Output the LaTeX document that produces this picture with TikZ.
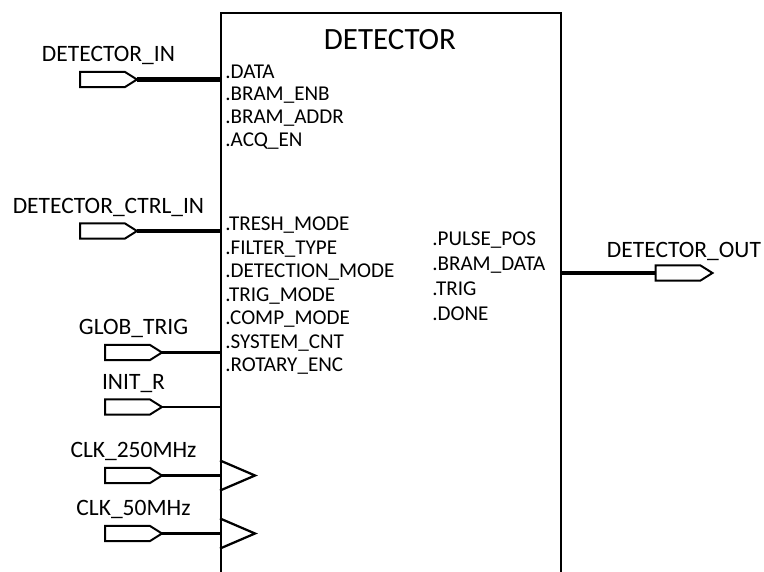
\documentclass[tikz,border=0pt]{standalone}
\usepackage{fontspec}
\setmainfont{Carlito}
\usepackage{tikz}
\usetikzlibrary{positioning}

\tikzset{
    port/.style={rectangle, minimum width=40.5pt, minimum height=10.7pt, inner sep=0pt, outer sep=0pt},
    portline/.style={line width=1.4pt, line join=miter},
    portlabel/.style={anchor=base, inner sep=0pt, font=\fontsize{16.7}{20}\selectfont},
    pin/.style={anchor=base west, inner sep=0pt, font=\fontsize{15}{18}\selectfont},
    bus/.style={line width=3pt},
    wire/.style={line width=1.6pt}
}
% pentagon outline of an I/O port node
\newcommand{\portshape}[1]{%
    \draw[portline] (#1.north west) -- ([xshift=-8.5pt]#1.north east) -- (#1.east)
        -- ([xshift=-8.5pt]#1.south east) -- (#1.south west) -- cycle;}

\begin{document}
\begin{tikzpicture}[x=0.025cm, y=-0.025cm]
    \clip (0,0) rectangle (764,572);

    % module box, open at the bottom
    \node[draw, line width=1.6pt, anchor=north west, minimum width=8.5cm, minimum height=16cm,
        inner sep=0pt] (det) at (220,12) {};
    \node[anchor=base, inner sep=0pt, font=\fontsize{22}{26}\selectfont] (title) at (390,50) {DETECTOR};

    % data input bus
    \node[port] (din) at (108.5,79.5) {};
    \portshape{din}
    \node[portlabel] (dinlbl) at ([yshift=7.1pt]din.north) {DETECTOR\_IN};
    \draw[bus] (din.east) -- (din.east -| det.west);
    \node[pin] (pdata) at (225,78) {.DATA};
    \node[pin] (pbenb) at (225,100.5) {.BRAM\_ENB};
    \node[pin] (pbaddr) at (225,123) {.BRAM\_ADDR};
    \node[pin] (pacq) at (225,146) {.ACQ\_EN};

    % control input bus
    \node[port] (dctrl) at (108.5,231) {};
    \portshape{dctrl}
    \node[portlabel] (dctrllbl) at ([yshift=7.1pt]dctrl.north) {DETECTOR\_CTRL\_IN};
    \draw[bus] (dctrl.east) -- (dctrl.east -| det.west);
    \node[pin] (ptresh) at (225,230.5) {.TRESH\_MODE};
    \node[pin] (pfilt) at (225,254) {.FILTER\_TYPE};
    \node[pin] (pdet) at (225,277.5) {.DETECTION\_MODE};
    \node[pin] (ptrigm) at (225,301) {.TRIG\_MODE};
    \node[pin] (pcomp) at (225,324.5) {.COMP\_MODE};
    \node[pin] (psys) at (225,348) {.SYSTEM\_CNT};
    \node[pin] (prot) at (225,371.5) {.ROTARY\_ENC};

    % single inputs
    \node[port] (gtrig) at (133.5,352.5) {};
    \portshape{gtrig}
    \node[portlabel] (gtriglbl) at ([yshift=7.1pt]gtrig.north) {GLOB\_TRIG};
    \draw[wire] (gtrig.east) -- (gtrig.east -| det.west);

    \node[port] (initr) at (133.5,407) {};
    \portshape{initr}
    \node[portlabel] (initrlbl) at ([yshift=7.1pt]initr.north) {INIT\_R};
    \draw[wire] (initr.east) -- (initr.east -| det.west);

    % clocks
    \node[port] (clka) at (133.5,475.5) {};
    \portshape{clka}
    \node[portlabel] (clkalbl) at ([yshift=7.1pt]clka.north) {CLK\_250MHz};
    \draw[wire] (clka.east) -- (clka.east -| det.west);
    \coordinate (clkapin) at (clka.east -| det.west);
    \draw[wire] ([yshift=10.7pt]clkapin) -- ([xshift=24.9pt]clkapin) -- ([yshift=-10.7pt]clkapin);

    \node[port] (clkb) at (133.5,533.5) {};
    \portshape{clkb}
    \node[portlabel] (clkblbl) at ([yshift=7.1pt]clkb.north) {CLK\_50MHz};
    \draw[wire] (clkb.east) -- (clkb.east -| det.west);
    \coordinate (clkbpin) at (clkb.east -| det.west);
    \draw[wire] ([yshift=10.7pt]clkbpin) -- ([xshift=24.9pt]clkbpin) -- ([yshift=-10.7pt]clkbpin);

    % outputs
    \node[pin] (ppulse) at (432,245) {.PULSE\_POS};
    \node[pin] (pbdata) at (432,270) {.BRAM\_DATA};
    \node[pin] (ptrig) at (432,295) {.TRIG};
    \node[pin] (pdone) at (432,320) {.DONE};

    \node[port] (dout) at (684,273) {};
    \portshape{dout}
    \node[portlabel] (doutlbl) at ([yshift=6pt]dout.north) {DETECTOR\_OUT};
    \draw[bus] (dout.west -| det.east) -- (dout.west);
\end{tikzpicture}
\end{document}
